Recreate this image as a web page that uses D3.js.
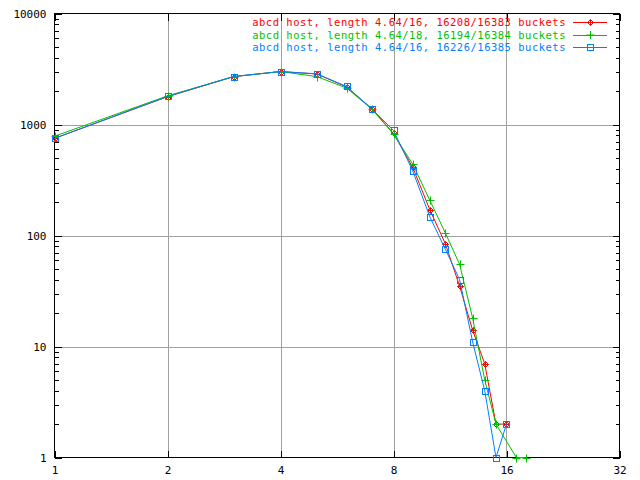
<!DOCTYPE html>
<html>
<head>
<meta charset="utf-8">
<script src="https://cdn.jsdelivr.net/npm/d3@7"></script>
<style>
  html, body { margin: 0; padding: 0; background: #fff; }
  svg { display: block; }
  text { font-family: "DejaVu Sans Mono", monospace; font-size: 11px; }
</style>
</head>
<body>
<script>
// ---- data ----
const seriesNames = [
  "abcd host, length 4.64/16, 16208/16383 buckets",
  "abcd host, length 4.64/18, 16194/16384 buckets",
  "abcd host, length 4.64/16, 16226/16385 buckets"
];
const seriesColors = ["#ff0000", "#00c000", "#0080ff"];
const seriesMarkers = ["diamond", "plus", "box"];

const redX   = [1, 2, 3, 4, 5, 6, 7, 8, 9, 10, 11, 12, 13, 14, 15, 16];
const redY   = [750, 1780, 2700, 3000, 2850, 2180, 1390, 830, 412, 170, 84, 35, 14, 7, 2, 2];
const greenX = [1, 2, 3, 4, 5, 6, 7, 8, 9, 10, 11, 12, 13, 14, 15, 17, 18];
const greenY = [785, 1810, 2700, 3000, 2700, 2130, 1380, 820, 440, 207, 105, 55, 18, 5, 2, 1, 1];
const blueX  = [1, 2, 3, 4, 5, 6, 7, 8, 9, 10, 11, 12, 13, 14, 15, 16];
const blueY  = [750, 1790, 2705, 3000, 2860, 2200, 1385, 883, 383, 147, 75, 40, 11, 4, 1, 2];

const xTicks = [1, 2, 4, 8, 16, 32];
const yTicks = [1, 10, 100, 1000, 10000];

// ---- layout ----
const W = 640, H = 480;
const L = 54.5, R = 619.5, T = 13.5, B = 457.5;

const svg = d3.select("body").append("svg").attr("width", W).attr("height", H);

const x = d3.scaleLog().base(2).domain([1, 32]).range([L, R]);
const y = d3.scaleLog().base(10).domain([1, 10000]).range([B, T]);

const yMinor = [];
for (let dec = 1; dec < 10000; dec *= 10) for (let k = 2; k <= 9; k++) yMinor.push(dec * k);

// grid
const grid = svg.append("g").attr("shape-rendering", "crispEdges");
grid.selectAll("line.gx").data(xTicks.filter(d => d > 1 && d < 32)).enter().append("line")
  .attr("x1", d => Math.round(x(d)) + 0.5).attr("x2", d => Math.round(x(d)) + 0.5)
  .attr("y1", T).attr("y2", B).attr("stroke", "#a0a0a0");
grid.selectAll("line.gy").data(yTicks.filter(d => d > 1 && d < 10000)).enter().append("line")
  .attr("y1", d => Math.round(y(d)) + 0.5).attr("y2", d => Math.round(y(d)) + 0.5)
  .attr("x1", L).attr("x2", R).attr("stroke", "#a0a0a0");

function styleAxis(g) {
  g.select(".domain").remove();
  g.selectAll(".tick line").attr("stroke", "#000");
  g.selectAll(".tick text").attr("fill", "#000")
    .style("font-family", "'DejaVu Sans Mono', monospace").style("font-size", "11px");
  g.attr("shape-rendering", "crispEdges");
}

// left axis: major + minor
svg.append("g").attr("transform", `translate(${L},0)`)
  .call(d3.axisLeft(y).tickValues(yTicks).tickFormat(d3.format("d")).tickSize(-7).tickPadding(8))
  .call(styleAxis);
svg.append("g").attr("transform", `translate(${L},0)`)
  .call(d3.axisLeft(y).tickValues(yMinor).tickFormat("").tickSize(-4))
  .call(styleAxis);
// right axis mirror
svg.append("g").attr("transform", `translate(${R},0)`)
  .call(d3.axisRight(y).tickValues(yTicks).tickFormat("").tickSize(-7))
  .call(styleAxis);
svg.append("g").attr("transform", `translate(${R},0)`)
  .call(d3.axisRight(y).tickValues(yMinor).tickFormat("").tickSize(-4))
  .call(styleAxis);
// bottom axis
svg.append("g").attr("transform", `translate(0,${B})`)
  .call(d3.axisBottom(x).tickValues(xTicks).tickFormat(d3.format("d")).tickSize(-7).tickPadding(9))
  .call(styleAxis);
// top axis mirror
svg.append("g").attr("transform", `translate(0,${T})`)
  .call(d3.axisTop(x).tickValues(xTicks).tickFormat("").tickSize(-7))
  .call(styleAxis);

// border
svg.append("rect").attr("x", L).attr("y", T).attr("width", R - L).attr("height", B - T)
  .attr("fill", "none").attr("stroke", "#000").attr("shape-rendering", "crispEdges");

// markers
function drawMarker(g, type, cx, cy, color) {
  if (type === "diamond") {
    g.append("path").attr("d", `M${cx - 3},${cy}L${cx},${cy - 3}L${cx + 3},${cy}L${cx},${cy + 3}Z`)
      .attr("fill", "none").attr("stroke", color);
    g.append("path").attr("d", `M${cx - 3},${cy}H${cx + 3}M${cx},${cy - 3}V${cy + 3}`).attr("stroke", color);
  } else if (type === "plus") {
    g.append("path").attr("d", `M${cx - 4},${cy}H${cx + 4}M${cx},${cy - 4}V${cy + 4}`).attr("stroke", color);
  } else {
    g.append("rect").attr("x", cx - 3).attr("y", cy - 3).attr("width", 6).attr("height", 6)
      .attr("fill", "none").attr("stroke", color);
  }
}

const series = [
  { xs: redX, ys: redY },
  { xs: greenX, ys: greenY },
  { xs: blueX, ys: blueY }
];

const line = d3.line().x(d => x(d[0])).y(d => y(d[1]));
const plot = svg.append("g");

series.forEach((s, i) => {
  const pts = s.xs.map((v, j) => [v, s.ys[j]]);
  const g = plot.append("g");
  g.append("path").datum(pts).attr("d", line)
    .attr("fill", "none").attr("stroke", seriesColors[i]).attr("stroke-width", 1);
  pts.forEach(p => drawMarker(g, seriesMarkers[i], Math.round(x(p[0])) + 0.5, Math.round(y(p[1])) + 0.5, seriesColors[i]));
});

// legend
const legY = [22.5, 35, 47.5];
seriesNames.forEach((name, i) => {
  const g = svg.append("g");
  g.append("text").attr("x", 566).attr("y", legY[i]).attr("dy", "0.35em")
    .attr("text-anchor", "end").attr("fill", seriesColors[i])
    .style("font-size", "10.5px").style("letter-spacing", "0.5px")
    .text(name);
  g.append("line").attr("x1", 573).attr("x2", 607).attr("y1", legY[i]).attr("y2", legY[i])
    .attr("stroke", seriesColors[i]).attr("shape-rendering", "crispEdges");
  drawMarker(g, seriesMarkers[i], 590.5, legY[i], seriesColors[i]);
});
</script>
</body>
</html>
